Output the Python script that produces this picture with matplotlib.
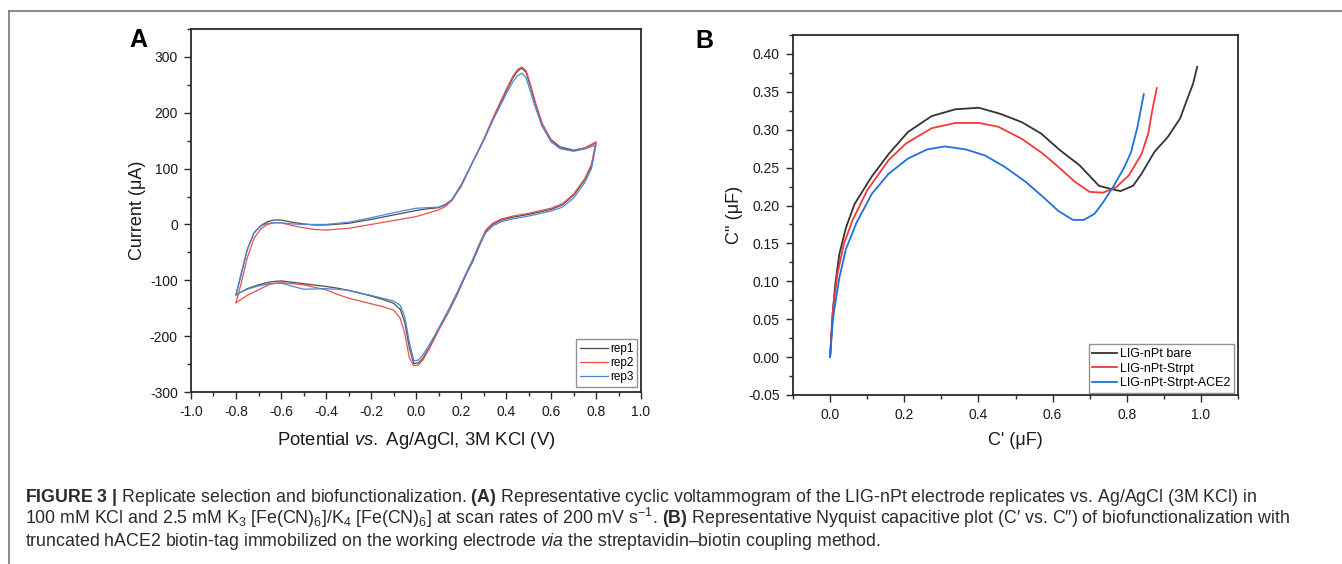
import matplotlib
matplotlib.use("Agg")
import matplotlib.pyplot as plt
from matplotlib.lines import Line2D
from matplotlib.ticker import MultipleLocator

plt.rcParams["font.family"] = ["Liberation Sans", "DejaVu Sans"]
plt.rcParams["mathtext.fontset"] = "custom"
plt.rcParams["mathtext.rm"] = "Liberation Sans"
plt.rcParams["mathtext.it"] = "Liberation Sans:italic"
plt.rcParams["mathtext.bf"] = "Liberation Sans:bold"
plt.rcParams["axes.unicode_minus"] = False

# =========================
# Data: panel A (cyclic voltammograms)
# =========================
e_fwd = [-0.80, -0.78, -0.75, -0.72, -0.69, -0.66, -0.63, -0.60, -0.55, -0.50,
         -0.45, -0.40, -0.30, -0.20, -0.10, 0.00, 0.05, 0.10, 0.13, 0.16,
         0.20, 0.25, 0.30, 0.35, 0.40, 0.43, 0.45, 0.47, 0.49, 0.51,
         0.53, 0.56, 0.60, 0.64, 0.70, 0.75, 0.80]
rep1_fwd = [-126, -95, -45, -15, -2, 5, 8, 8, 4, 1,
            -1, -1, 2, 9, 17, 25, 28, 30, 35, 44,
            68, 110, 150, 196, 238, 262, 274, 280, 272, 245,
            217, 180, 152, 139, 133, 137, 146]
rep2_fwd = [-140, -110, -60, -25, -8, 0, 3, 3, -2, -6,
            -9, -10, -7, 0, 7, 14, 20, 26, 32, 43,
            70, 110, 152, 198, 241, 265, 277, 282, 275, 249,
            220, 182, 150, 136, 132, 137, 148]
rep3_fwd = [-125, -92, -45, -15, -3, 2, 3, 3, 1, 0,
            0, 0, 4, 12, 21, 29, 30, 31, 36, 45,
            71, 110, 150, 193, 233, 255, 266, 271, 262, 236,
            210, 176, 148, 136, 131, 135, 142]

e_rev = [0.80, 0.78, 0.75, 0.70, 0.65, 0.60, 0.50, 0.43, 0.38, 0.34,
         0.31, 0.28, 0.25, 0.22, 0.18, 0.14, 0.10, 0.06, 0.03, 0.01,
         -0.01, -0.03, -0.05, -0.07, -0.10, -0.15, -0.20, -0.30, -0.35, -0.40,
         -0.50, -0.60, -0.65, -0.70, -0.75, -0.80]
rep1_rev = [146, 105, 80, 52, 35, 27, 18, 13, 8, 0,
            -12, -40, -68, -92, -128, -160, -188, -220, -240, -248,
            -249, -220, -175, -152, -141, -134, -128, -118, -114, -111,
            -106, -101, -103, -108, -115, -126]
rep2_rev = [148, 108, 82, 54, 37, 29, 20, 15, 10, 2,
            -10, -36, -65, -90, -126, -160, -190, -222, -243, -252,
            -253, -238, -195, -168, -153, -147, -142, -132, -125, -117,
            -108, -104, -107, -117, -127, -140]
rep3_rev = [142, 100, 75, 47, 31, 24, 15, 10, 5, -3,
            -15, -38, -65, -90, -124, -156, -186, -215, -234, -243,
            -244, -210, -165, -145, -137, -132, -127, -118, -116, -115,
            -116, -105, -106, -110, -116, -125]

# =========================
# Data: panel B (Nyquist capacitive plot)
# =========================
bare_x = [0.0, 0.006, 0.014, 0.025, 0.043, 0.066, 0.112, 0.158, 0.21, 0.274,
          0.338, 0.401, 0.459, 0.517, 0.569, 0.62, 0.673, 0.725, 0.748, 0.783,
          0.817, 0.84, 0.875, 0.91, 0.944, 0.962, 0.979, 0.99]
bare_y = [0.0, 0.052, 0.096, 0.136, 0.171, 0.202, 0.238, 0.268, 0.297, 0.318,
          0.327, 0.329, 0.321, 0.310, 0.295, 0.273, 0.253, 0.226, 0.223, 0.219,
          0.226, 0.242, 0.271, 0.290, 0.315, 0.339, 0.361, 0.383]
strpt_x = [0.0, 0.008, 0.02, 0.037, 0.06, 0.10, 0.158, 0.205, 0.274, 0.338,
           0.401, 0.453, 0.517, 0.575, 0.62, 0.661, 0.70, 0.736, 0.771, 0.806,
           0.84, 0.858, 0.869, 0.881]
strpt_y = [0.0, 0.065, 0.11, 0.149, 0.18, 0.22, 0.26, 0.282, 0.302, 0.309,
           0.309, 0.304, 0.288, 0.268, 0.249, 0.231, 0.218, 0.217, 0.224, 0.240,
           0.268, 0.295, 0.326, 0.355]
ace2_x = [0.0, 0.008, 0.025, 0.043, 0.072, 0.112, 0.158, 0.21, 0.262, 0.309,
          0.366, 0.418, 0.471, 0.528, 0.575, 0.615, 0.655, 0.684, 0.713, 0.736,
          0.765, 0.794, 0.812, 0.829, 0.846]
ace2_y = [0.0, 0.052, 0.105, 0.143, 0.178, 0.215, 0.242, 0.262, 0.274, 0.278,
          0.274, 0.266, 0.251, 0.231, 0.211, 0.193, 0.181, 0.181, 0.189, 0.204,
          0.226, 0.251, 0.271, 0.304, 0.347]

cv_labels = ["rep1", "rep2", "rep3"]
nyq_labels = ["LIG-nPt bare", "LIG-nPt-Strpt", "LIG-nPt-Strpt-ACE2"]

W, H = 1342, 564
fig = plt.figure(figsize=(W / 100, H / 100), dpi=100)


def px_axes(left, top, right, bottom):
    return fig.add_axes([left / W, 1 - bottom / H, (right - left) / W, (bottom - top) / H])


def style_axes(ax):
    for s in ax.spines.values():
        s.set_color("#2a2a2a")
        s.set_linewidth(1.3)
    ax.tick_params(which="both", direction="out", top=False, right=False,
                   color="#2a2a2a", width=1.0, labelsize=10, labelcolor="#1a1a1a")
    ax.tick_params(which="major", length=5, pad=4.5)
    ax.tick_params(which="minor", length=3)


# =========================
# A. Cyclic voltammograms
# =========================
axA = px_axes(191, 29, 641, 392)
cv_colors = ["#4d4d4d", "#e8504f", "#4a88d6"]
for (fwd, rev), col, lab in zip([(rep1_fwd, rep1_rev), (rep2_fwd, rep2_rev), (rep3_fwd, rep3_rev)],
                                cv_colors, cv_labels):
    axA.plot(e_fwd + e_rev, fwd + rev, color=col, lw=0.9, label=lab)
axA.set_xlim(-1.0, 1.0)
axA.set_ylim(-300, 350)
axA.xaxis.set_major_locator(MultipleLocator(0.2))
axA.xaxis.set_minor_locator(MultipleLocator(0.1))
axA.yaxis.set_major_locator(MultipleLocator(100))
axA.yaxis.set_minor_locator(MultipleLocator(50))
axA.set_yticks([-300, -200, -100, 0, 100, 200, 300])
style_axes(axA)
axA.set_xlabel(r"Potential $\mathit{vs.}$ Ag/AgCl, 3M KCl (V)", fontsize=13.3, color="#1a1a1a")
axA.set_ylabel("Current (μA)", fontsize=13, color="#1a1a1a")
axA.xaxis.set_label_coords(0.5, -0.105)
axA.yaxis.set_label_coords(-0.10, 0.5)
legA = axA.legend(loc="lower right", bbox_to_anchor=(0.992, 0.014), borderaxespad=0,
                  fontsize=8.5, frameon=True, fancybox=False, edgecolor="#777777",
                  handlelength=2.4, handletextpad=0.2, labelspacing=0.2, borderpad=0.3)
legA.get_frame().set_linewidth(1.0)

# =========================
# B. Nyquist capacitive plot
# =========================
axB = px_axes(793, 35, 1238, 395)
nyq_colors = ["#333333", "#ef3b3b", "#1f6fe0"]
for xs, ys, col, lab in zip([bare_x, strpt_x, ace2_x], [bare_y, strpt_y, ace2_y],
                            nyq_colors, nyq_labels):
    axB.plot(xs, ys, color=col, lw=1.3, label=lab)
axB.set_xlim(-0.1, 1.1)
axB.set_ylim(-0.05, 0.425)
axB.set_xticks([0.0, 0.2, 0.4, 0.6, 0.8, 1.0])
axB.xaxis.set_minor_locator(MultipleLocator(0.1))
axB.set_yticks([-0.05, 0.0, 0.05, 0.10, 0.15, 0.20, 0.25, 0.30, 0.35, 0.40])
axB.yaxis.set_minor_locator(MultipleLocator(0.025))
axB.yaxis.set_major_formatter(plt.FormatStrFormatter("%.2f"))
axB.xaxis.set_major_formatter(plt.FormatStrFormatter("%.1f"))
style_axes(axB)
axB.set_xlabel("C' (μF)", fontsize=13, color="#1a1a1a")
axB.set_ylabel("C'' (μF)", fontsize=13, color="#1a1a1a")
axB.xaxis.set_label_coords(0.5, -0.103)
axB.yaxis.set_label_coords(-0.112, 0.5)
legB = axB.legend(loc="lower right", bbox_to_anchor=(0.991, 0.006), borderaxespad=0,
                  fontsize=9, frameon=True, fancybox=False, edgecolor="#777777",
                  handlelength=2.0, handletextpad=0.2, labelspacing=0.2, borderpad=0.3)
legB.get_frame().set_linewidth(1.0)

# panel letters
fig.text(129 / W, 1 - 47 / H, "A", fontsize=18, fontweight="bold", va="baseline")
fig.text(695 / W, 1 - 48 / H, "B", fontsize=18, fontweight="bold", va="baseline")

# frame lines
fig.add_artist(Line2D([9 / W, 1], [1 - 10.7 / H, 1 - 10.7 / H], color="#777777", lw=1.2))
fig.add_artist(Line2D([9.3 / W, 9.3 / W], [1 - 10.7 / H, 0], color="#777777", lw=1.2))

# caption
cap = [
    r"$\mathbf{FIGURE\ 3\ |}$ Replicate selection and biofunctionalization. $\mathbf{(A)}$ Representative cyclic voltammogram of the LIG-nPt electrode replicates vs. Ag/AgCl (3M KCl) in",
    r"100 mM KCl and 2.5 mM K$_3$ [Fe(CN)$_6$]/K$_4$ [Fe(CN)$_6$] at scan rates of 200 mV s$^{-1}$. $\mathbf{(B)}$ Representative Nyquist capacitive plot (C′ vs. C″) of biofunctionalization with",
    r"truncated hACE2 biotin-tag immobilized on the working electrode $\mathit{via}$ the streptavidin–biotin coupling method.",
]
for i, line in enumerate(cap):
    fig.text(25 / W, 1 - (502 + 22 * i) / H, line, fontsize=12.8, color="#2a2a2a", va="baseline")

fig.savefig("out.png", dpi=100)
